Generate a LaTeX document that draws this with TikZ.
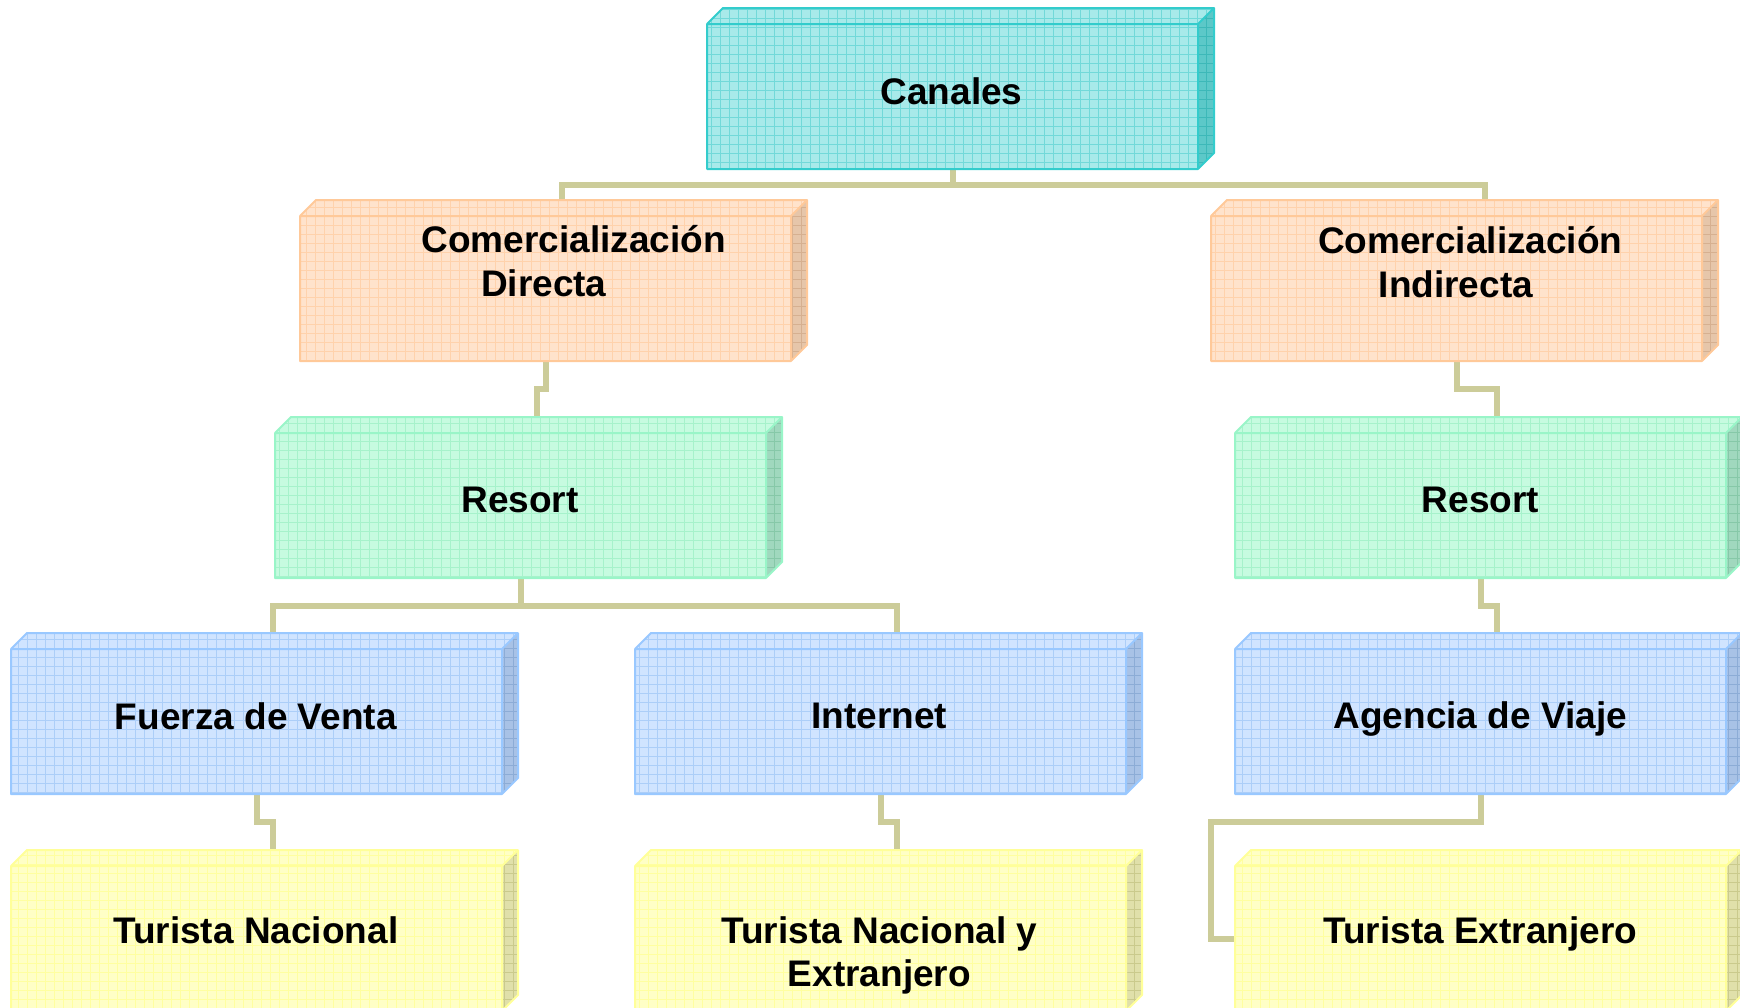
\documentclass[tikz,border=0pt]{standalone}
\usepackage{fontspec}
\setmainfont{Liberation Sans}
\usetikzlibrary{calc,backgrounds}
% cyan
\definecolor{cyF}{HTML}{A8EAEA}\definecolor{cyG}{HTML}{72D9D9}\definecolor{cyB}{HTML}{33CCCC}\definecolor{cyS}{HTML}{5CC8C8}\definecolor{cyH}{HTML}{3DB8B8}
% orange
\definecolor{orF}{HTML}{FFE3CC}\definecolor{orG}{HTML}{FFD2AC}\definecolor{orB}{HTML}{FFC999}\definecolor{orS}{HTML}{E6C6AA}\definecolor{orH}{HTML}{D6B090}
% green
\definecolor{grF}{HTML}{C6FBE0}\definecolor{grG}{HTML}{A6F2CB}\definecolor{grB}{HTML}{99F5C8}\definecolor{grS}{HTML}{A0D8BE}\definecolor{grH}{HTML}{86C8A8}
% blue
\definecolor{blF}{HTML}{D0E4FF}\definecolor{blG}{HTML}{ACCEF8}\definecolor{blB}{HTML}{99C8FF}\definecolor{blS}{HTML}{A8C2E6}\definecolor{blH}{HTML}{8CACD6}
% yellow
\definecolor{yeF}{HTML}{FFFFC6}\definecolor{yeG}{HTML}{FFFFA0}\definecolor{yeB}{HTML}{FFFF99}\definecolor{yeS}{HTML}{E0E0AA}\definecolor{yeH}{HTML}{CACA8C}
\definecolor{connc}{HTML}{CCCC99}
\tikzset{
  boxnode/.style={inner sep=0pt, outer sep=0pt, minimum width=491pt, minimum height=145pt},
  conn/.style={draw=connc, line width=6pt},
  lbl/.style={font=\bfseries\fontsize{37pt}{44pt}\selectfont, anchor=base, inner sep=0pt},
  gridline/.style={line width=0.7pt}
}
\newcommand\tdbox[4]{%
  \node[boxnode, anchor=north west] (#1) at (#2,#3) {};
  \coordinate (#1-bt) at ($(#1.north)+(16,-16)$);
  \begin{scope}
    \clip (#1.north west) -- ++(16,-16) -- ($(#1.north east)+(16,-16)$) -- (#1.north east) -- (#1.south east) -- (#1.south west) -- cycle;
    \fill[#4F] ($(#1.south west)+(-2,2)$) rectangle ($(#1.north east)+(20,-20)$);
    \draw[#4G, gridline, step=9pt] ($(#1.south west)+(-2,2)$) grid ($(#1.north east)+(20,-20)$);
  \end{scope}
  \begin{scope}
    \clip (#1.north east) -- ++(16,-16) -- ($(#1.south east)+(16,-16)$) -- (#1.south east) -- cycle;
    \fill[#4S] ($(#1.south east)+(-2,2)$) rectangle ($(#1.north east)+(20,-20)$);
    \draw[#4H, gridline, step=9pt] ($(#1.south east)+(-2,2)$) grid ($(#1.north east)+(20,-20)$);
  \end{scope}
  \draw[#4B, line width=2pt, line join=round]
    (#1.north west) -- ++(16,-16) -- ($(#1.north east)+(16,-16)$) -- ($(#1.south east)+(16,-16)$) -- (#1.south east)
    (#1.north east) -- ++(16,-16)
    (#1.north west) rectangle (#1.south east);
}
\newcommand\elbow[2]{%
  \path ($(#1)!0.5!(#2)$) coordinate (em);
  \draw[conn] (#1) -- (#1 |- em) -- (#2 |- em) -- (#2);
}
\begin{document}
\begin{tikzpicture}[x=1pt,y=-1pt]
\useasboundingbox (0,0) rectangle (1740,1007);
\tdbox{canales}{707}{24}{cy}
\tdbox{cd}{300}{216}{or}
\tdbox{ci}{1211}{216}{or}
\tdbox{resl}{275}{433}{gr}
\tdbox{resr}{1235}{433}{gr}
\tdbox{fuerza}{11}{649}{bl}
\tdbox{internet}{635}{649}{bl}
\tdbox{agencia}{1235}{649}{bl}
\tdbox{tn}{11}{866}{ye}
\tdbox{tnye}{635}{866}{ye}
\tdbox{te}{1235}{866}{ye}
\coordinate (ci-in) at ($(ci-bt)+(12,0)$);
\begin{scope}[on background layer]
  \elbow{canales.south}{cd-bt}
  \elbow{canales.south}{ci-in}
  \elbow{cd.south}{resl-bt}
  \elbow{ci.south}{resr-bt}
  \elbow{resl.south}{fuerza-bt}
  \elbow{resl.south}{internet-bt}
  \elbow{resr.south}{agencia-bt}
  \elbow{fuerza.south}{tn-bt}
  \elbow{internet.south}{tnye-bt}
  \draw[conn] (agencia.south) -- ++(0,28) -| ([xshift=-24pt]te.west) -- (te.west);
\end{scope}
\node[lbl] (t-canales) at (951.6,104) {Canales};
\node[lbl] (t-cd1) at (573.7,252) {Comercialización};
\node[lbl] (t-cd2) at (543.8,296) {Directa};
\node[lbl] (t-ci1) at (1470.3,253) {Comercialización};
\node[lbl] (t-ci2) at (1455.9,297) {Indirecta};
\node[lbl] (t-resl) at (519.9,512) {Resort};
\node[lbl] (t-resr) at (1480.3,512) {Resort};
\node[lbl] (t-fuerza) at (255.8,729) {Fuerza de Venta};
\node[lbl] (t-internet) at (879.4,728) {Internet};
\node[lbl] (t-agencia) at (1480.3,728) {Agencia de Viaje};
\node[lbl] (t-tn) at (255.8,943) {Turista Nacional};
\node[lbl] (t-tnye1) at (879.4,943) {Turista Nacional y};
\node[lbl] (t-tnye2) at (879.4,986) {Extranjero};
\node[lbl] (t-te) at (1480.3,943) {Turista Extranjero};
\end{tikzpicture}
\end{document}
